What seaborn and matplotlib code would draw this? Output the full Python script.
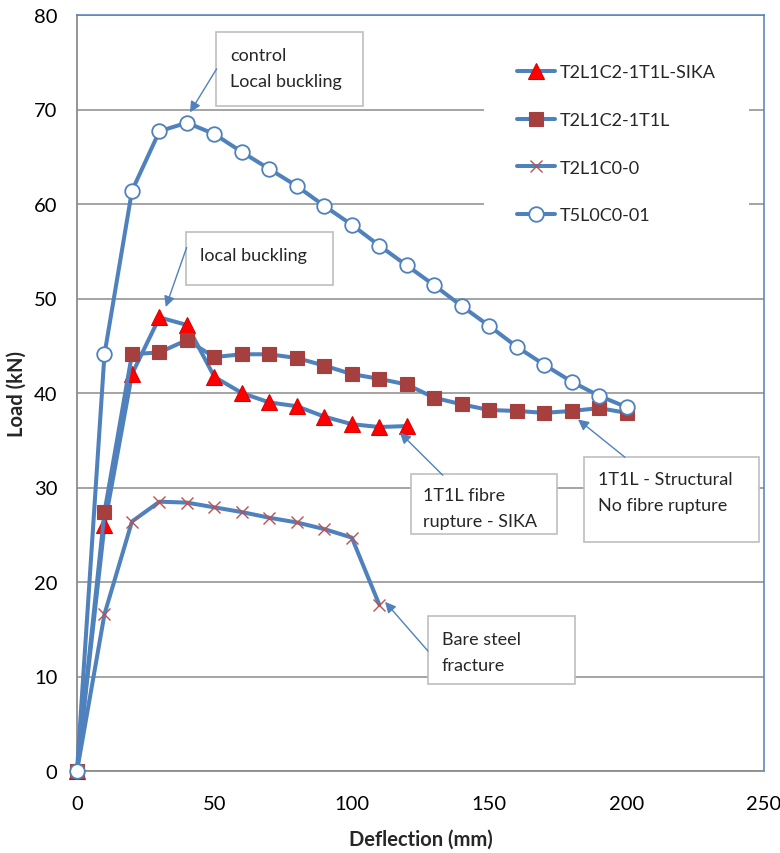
import matplotlib
matplotlib.use("Agg")
import matplotlib.pyplot as plt
import seaborn as sns
import numpy as np
from matplotlib.patches import Rectangle

# ---- data ----
x_sika = [0, 10, 20, 30, 40, 50, 60, 70, 80, 90, 100, 110, 120]
y_sika = [0, 26.0, 42.0, 48.0, 47.2, 41.7, 40.0, 39.0, 38.6, 37.5, 36.7, 36.4, 36.5]

x_1t1l = [0, 10, 20, 30, 40, 50, 60, 70, 80, 90, 100, 110, 120, 130, 140, 150, 160, 170, 180, 190, 200]
y_1t1l = [0, 27.4, 44.1, 44.3, 45.6, 43.8, 44.1, 44.1, 43.7, 42.9, 42.0, 41.5, 40.9, 39.5, 38.8, 38.2, 38.1, 37.9, 38.1, 38.4, 37.9]

x_bare = [0, 10, 20, 30, 40, 50, 60, 70, 80, 90, 100, 110]
y_bare = [0, 16.6, 26.4, 28.5, 28.4, 27.9, 27.4, 26.8, 26.3, 25.6, 24.7, 17.6]

x_ctrl = [0, 10, 20, 30, 40, 50, 60, 70, 80, 90, 100, 110, 120, 130, 140, 150, 160, 170, 180, 190, 200]
y_ctrl = [0, 44.1, 61.4, 67.7, 68.6, 67.4, 65.5, 63.7, 61.9, 59.8, 57.8, 55.6, 53.5, 51.4, 49.2, 47.1, 44.9, 43.0, 41.2, 39.7, 38.5]

labels = ["T2L1C2-1T1L-SIKA", "T2L1C2-1T1L", "T2L1C0-0", "T5L0C0-01"]
x_ticks = [0, 50, 100, 150, 200, 250]
y_ticks = [0, 10, 20, 30, 40, 50, 60, 70, 80]

notes = ["control\nLocal buckling", "local buckling", "1T1L fibre\nrupture - SIKA",
         "1T1L - Structural\nNo fibre rupture", "Bare steel\nfracture"]

# ---- style ----
sns.set_style("white")
FONT = ["Lato", "DejaVu Sans"]
plt.rcParams["font.family"] = FONT

BLUE = "#4F81BD"
fig = plt.figure(figsize=(7.8, 8.54), dpi=100)
ax = fig.add_axes([77/780, 1-772/854, 687/780, 756/854])

lw = 2.9
common = dict(ax=ax, color=BLUE, lw=lw, sort=False, clip_on=False)
sns.lineplot(x=x_sika, y=y_sika, marker="^", markersize=11,
             markerfacecolor="#FF0000", markeredgecolor="#E00000", markeredgewidth=0.8,
             label=labels[0], zorder=3, **common)
sns.lineplot(x=x_1t1l, y=y_1t1l, marker="s", markersize=9.5,
             markerfacecolor="#A5403E", markeredgecolor="#A5403E", markeredgewidth=0.8,
             label=labels[1], zorder=4, **common)
sns.lineplot(x=x_bare, y=y_bare, marker="x", markersize=9,
             markerfacecolor="#C0504D", markeredgecolor="#C0504D", markeredgewidth=1.0,
             label=labels[2], zorder=5, **common)
sns.lineplot(x=x_ctrl, y=y_ctrl, marker="o", markersize=10.5,
             markerfacecolor="white", markeredgecolor=BLUE, markeredgewidth=1.3,
             label=labels[3], zorder=6, **common)

ax.set_xlim(0, 250)
ax.set_ylim(0, 80)
ax.set_xticks(x_ticks)
ax.set_yticks(y_ticks)
ax.tick_params(axis="both", length=0, labelsize=14.5, colors="black")
ax.tick_params(axis="y", pad=14)
ax.tick_params(axis="x", pad=17)
ax.yaxis.grid(True, color="#8C8C8C", lw=1.1, zorder=0)
ax.xaxis.grid(False)
ax.set_axisbelow(True)
for s in ["top", "right"]:
    ax.spines[s].set_color(BLUE)
    ax.spines[s].set_linewidth(1.1)
for s in ["left", "bottom"]:
    ax.spines[s].set_color("#8C8C8C")
    ax.spines[s].set_linewidth(1.3)

ax.set_xlabel("Deflection (mm)", fontsize=14.5, fontweight="bold", labelpad=12)
ax.set_ylabel("Load (kN)", fontsize=14.5, fontweight="bold", labelpad=5)

leg = ax.legend(loc="upper left", bbox_to_anchor=((484-77)/687, (772-32)/756),
                frameon=True, facecolor="white", edgecolor="none", framealpha=1,
                fontsize=13, handlelength=2.1, handletextpad=0.25, labelspacing=1.75,
                borderpad=1.85, borderaxespad=0)
leg.set_zorder(7)

# ---- annotation boxes ----
boxes = [
    ((50.6, 70.4), 53.5, 7.8, (55.7, 74.4)),
    ((39.7, 51.4), 53.5, 5.6, (44.8, 54.6)),
    ((121.4, 25.1), 53.1, 6.3, (126.0, 27.8)),
    ((184.5, 24.2), 63.7, 9.0, (189.7, 29.5)),
    ((127.7, 9.2), 53.5, 7.2, (132.7, 12.6)),
]
arrows = [
    ((50.8, 74.3), (41.1, 69.7)),
    ((39.9, 55.4), (32.3, 49.1)),
    ((133.1, 31.3), (117.5, 35.8)),
    ((199.4, 33.2), (182.3, 37.2)),
    ((127.7, 12.7), (112.1, 17.9)),
]
for (xy, w, h, txy), (start, tip), note in zip(boxes, arrows, notes):
    ax.add_patch(Rectangle(xy, w, h, facecolor="white", edgecolor="#BFBFBF", lw=1.2, zorder=8))
    ax.text(txy[0], txy[1], note, fontsize=13, ha="left", va="center",
            linespacing=1.8, zorder=9)
    ax.annotate("", xy=tip, xytext=start,
                arrowprops=dict(arrowstyle="-|>", color=BLUE, lw=1.0, mutation_scale=16,
                                shrinkA=0, shrinkB=0), zorder=9)

fig.savefig("out.png", dpi=100)
